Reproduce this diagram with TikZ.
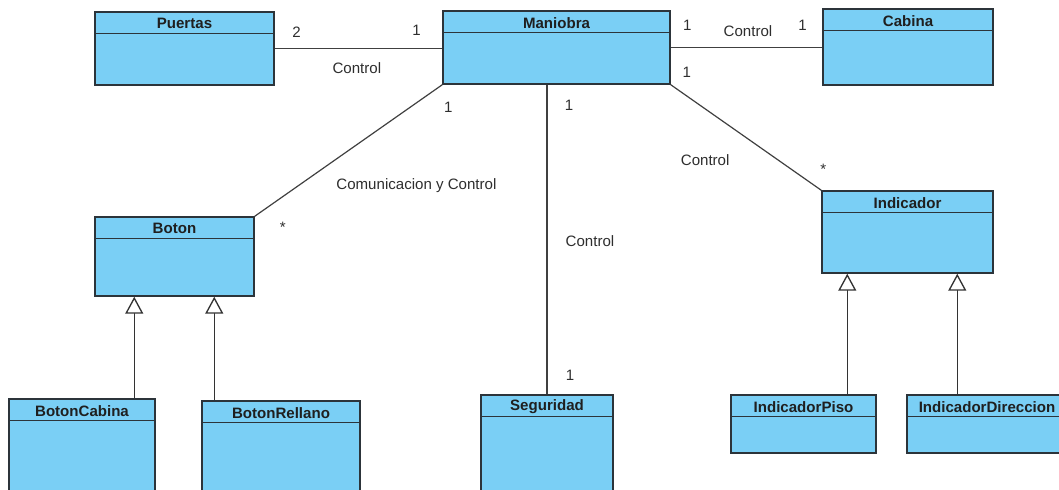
\documentclass[tikz,border=0pt]{standalone}
\usepackage{fontspec}
\setmainfont{Liberation Sans}
\usetikzlibrary{arrows.meta,fit}

\definecolor{classfill}{RGB}{122,207,245}
\definecolor{classdraw}{RGB}{44,52,58}

\tikzset{
  classbox/.style={draw=classdraw, fill=classfill, line width=1.1pt, inner sep=0pt},
  classname/.style={font=\fontsize{11.3}{13}\selectfont\bfseries, minimum height=16.5pt, inner sep=0pt, text=black!88},
  assoc/.style={draw=black!75, line width=0.9pt},
  inherit/.style={draw=black!80, line width=1pt, -{Triangle[open, fill=white, length=12.75pt, width=13.5pt]}},
  lbl/.style={font=\fontsize{11.3}{13}\selectfont, inner sep=0pt, text=black!82},
}

% name, left, top, right, bottom, title
\newcommand{\umlclass}[6]{%
  \node[classbox, fit={(#2,#3) (#4,#5)}] (#1) {};
  \draw[draw=classdraw, line width=1.1pt] ([yshift=-16.5pt]#1.north west) -- ([yshift=-16.5pt]#1.north east);
  \node[classname, anchor=north, yshift=-1pt] (#1-title) at (#1.north) {#6};
}

\begin{document}
\begin{tikzpicture}[x=0.75pt, y=-0.75pt]
  \useasboundingbox (0,0) rectangle (1059,489);
  \clip (0,0) rectangle (1059,489);

  \umlclass{puertas}{95}{12}{274}{85}{Puertas}
  \umlclass{maniobra}{443}{11}{670}{84}{Maniobra}
  \umlclass{cabina}{823}{9}{993}{85}{Cabina}
  \umlclass{boton}{95}{217}{254}{296}{Boton}
  \umlclass{indicador}{822}{191}{993}{273}{Indicador}
  \umlclass{seguridad}{481}{395}{613}{500}{Seguridad}
  \umlclass{bcabina}{9}{399}{155}{500}{BotonCabina}
  \umlclass{brellano}{202}{401}{360}{500}{BotonRellano}
  \umlclass{ipiso}{731}{395}{876}{453}{IndicadorPiso}
  \umlclass{idir}{907}{395}{1067}{453}{IndicadorDireccion}

  % associations
  \draw[assoc] (puertas.east) -- (puertas.east -| maniobra.west)
    node[lbl, pos=0.13, yshift=12.4pt] (m1) {2}
    node[lbl, pos=0.846, yshift=13.9pt] (m2) {1}
    node[lbl, pos=0.49, yshift=-14.6pt] (a1) {Control};
  \draw[assoc] (maniobra.east) -- (maniobra.east -| cabina.west)
    node[lbl, pos=0.11, yshift=16.9pt] (m3) {1}
    node[lbl, pos=0.51, yshift=12.4pt] (a2) {Control}
    node[lbl, pos=0.87, yshift=16.9pt] (m4) {1};
  \draw[assoc] (maniobra.south east) -- (indicador.north west)
    node[lbl, pos=0, xshift=12pt, yshift=9pt] (m5) {1}
    node[lbl, pos=0.7, xshift=-53.2pt, yshift=-0.8pt] (a3) {Control}
    node[lbl, pos=1, xshift=1.5pt, yshift=15.75pt] (m6) {*};
  \draw[assoc] (maniobra.south west) -- (boton.north east)
    node[lbl, pos=0, xshift=4.5pt, yshift=-17.25pt] (m7) {1}
    node[lbl, pos=0.76, xshift=87.5pt, yshift=-0.7pt] (a4) {Comunicacion y Control}
    node[lbl, pos=1, xshift=21pt, yshift=-8.25pt] (m8) {*};
  \draw[assoc] (seguridad.north |- maniobra.south) -- (seguridad.north)
    node[lbl, pos=0.068, xshift=16.5pt] (m9) {1}
    node[lbl, pos=0.505, xshift=32.25pt] (a5) {Control}
    node[lbl, pos=0.939, xshift=17.25pt] (m10) {1};

  % generalizations
  \path ([xshift=30pt]boton.south west) coordinate (g1)
        ([xshift=90pt]boton.south west) coordinate (g2)
        ([xshift=19.5pt]indicador.south west) coordinate (g3)
        ([xshift=102pt]indicador.south west) coordinate (g4);
  \draw[inherit] (g1 |- bcabina.north) -- (g1);
  \draw[inherit] (g2 |- brellano.north) -- (g2);
  \draw[inherit] (g3 |- ipiso.north) -- (g3);
  \draw[inherit] (g4 |- idir.north) -- (g4);
\end{tikzpicture}
\end{document}
